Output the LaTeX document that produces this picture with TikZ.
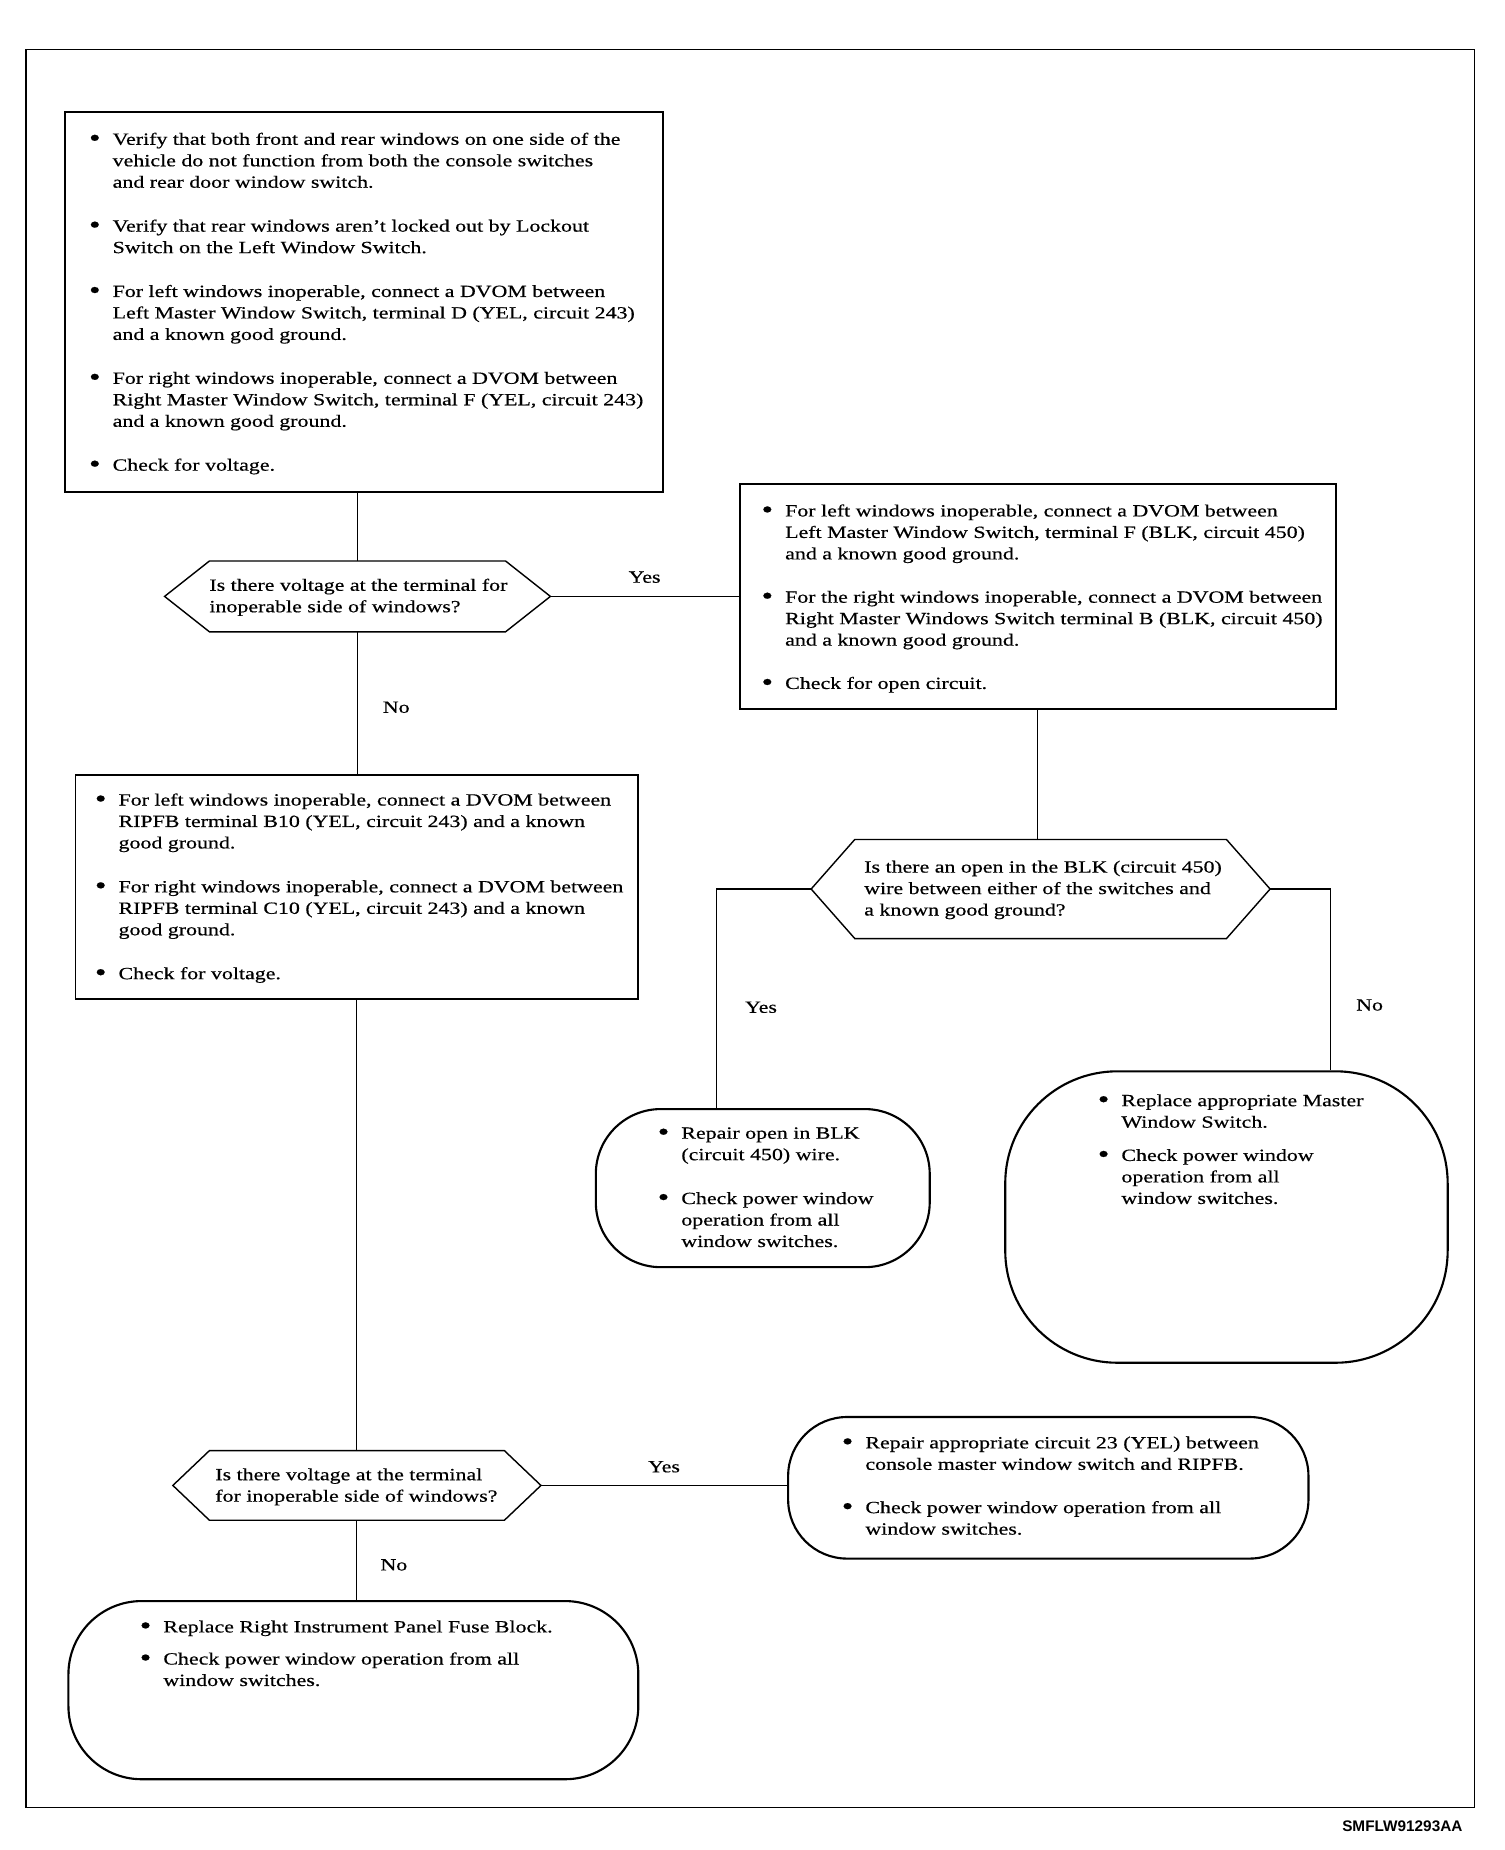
\documentclass[tikz,border=0pt]{standalone}
\usepackage{fontspec}
\setmainfont{Liberation Serif}[FakeStretch=1.28,FakeBold=0.5]
\newfontfamily\codefont{Liberation Sans}
\usetikzlibrary{positioning}
\newcommand{\flow}{\fontsize{14.5}{18.2}\selectfont}
\newcommand{\bl}{\makebox[20pt][l]{\raisebox{-1.3pt}{\scalebox{1.5}{\textbullet}}}}
\newcommand{\ind}{\hspace*{20pt}}

\begin{document}
\begin{tikzpicture}[x=1pt,y=-1pt,line width=1pt]
  \tikzstyle{nodeRect}=[rectangle,draw,line width=1.6pt,inner sep=0pt]
  \tikzstyle{nodeEnd}=[rectangle,draw,line width=1.8pt,inner sep=0pt]
  \tikzstyle{nodeQ}=[rectangle,inner sep=0pt]
  \tikzstyle{nodeTxt}=[anchor=north west,inner sep=0pt,align=left,font=\flow,yshift=-2pt]
  \tikzstyle{nodeLbl}=[inner sep=0pt,font=\flow]

  \useasboundingbox (0,0) rectangle (1275,1568);
  \draw (22,42) rectangle (1250,1532);

  % Check boxes
  \node[nodeRect, minimum width=507, minimum height=322] (verify)     at (308.5,256)  {};
  \node[nodeRect, minimum width=505, minimum height=191] (groundTest) at (879.5,505.5) {};
  \node[nodeRect, minimum width=477, minimum height=190] (fuseTest)   at (302.5,752)  {};

  % Questions
  \node[nodeQ, minimum width=326, minimum height=59] (askVolt) at (303,505.5)  {};
  \node[nodeQ, minimum width=388, minimum height=83] (askOpen) at (882,753.5)  {};
  \node[nodeQ, minimum width=311, minimum height=58] (askFuse) at (302.5,1259) {};
  \foreach \q/\c in {askVolt/38,askOpen/37,askFuse/31}
    \draw[line width=1.2pt] (\q.west) -- ([xshift=\c]\q.north west) -- ([xshift=-\c]\q.north east)
      -- (\q.east) -- ([xshift=-\c]\q.south east) -- ([xshift=\c]\q.south west) -- cycle;

  % End boxes
  \node[nodeEnd, rounded corners=55, minimum width=283, minimum height=134] (fixWire)    at (646.5,1007)   {};
  \node[nodeEnd, rounded corners=95, minimum width=375, minimum height=247] (newSwitch)  at (1039.5,1031.5) {};
  \node[nodeEnd, rounded corners=50, minimum width=441, minimum height=120] (fixCircuit) at (888.5,1261)   {};
  \node[nodeEnd, rounded corners=62, minimum width=483, minimum height=151] (newBlock)   at (299.5,1432.5) {};

  % Texts
  \node[nodeTxt] (verifyTxt) at (75,110) {%
    \bl Verify that both front and rear windows on one side of the\\
    \ind vehicle do not function from both the console switches\\
    \ind and rear door window switch.\\[19pt]
    \bl Verify that rear windows aren't locked out by Lockout\\
    \ind Switch on the Left Window Switch.\\[19pt]
    \bl For left windows inoperable, connect a DVOM between\\
    \ind Left Master Window Switch, terminal D (YEL, circuit 243)\\
    \ind and a known good ground.\\[19pt]
    \bl For right windows inoperable, connect a DVOM between\\
    \ind Right Master Window Switch, terminal F (YEL, circuit 243)\\
    \ind and a known good ground.\\[19pt]
    \bl Check for voltage.};
  \node[nodeTxt] (askVoltTxt) at (177,488) {Is there voltage at the terminal for\\inoperable side of windows?};
  \node[nodeTxt] (groundTxt) at (645,425) {%
    \bl For left windows inoperable, connect a DVOM between\\
    \ind Left Master Window Switch, terminal F (BLK, circuit 450)\\
    \ind and a known good ground.\\[18.5pt]
    \bl For the right windows inoperable, connect a DVOM between\\
    \ind Right Master Windows Switch terminal B (BLK, circuit 450)\\
    \ind and a known good ground.\\[18.5pt]
    \bl Check for open circuit.};
  \node[nodeTxt] (fuseTxt) at (80,670) {%
    \bl For left windows inoperable, connect a DVOM between\\
    \ind RIPFB terminal B10 (YEL, circuit 243) and a known\\
    \ind good ground.\\[19pt]
    \bl For right windows inoperable, connect a DVOM between\\
    \ind RIPFB terminal C10 (YEL, circuit 243) and a known\\
    \ind good ground.\\[19pt]
    \bl Check for voltage.};
  \node[nodeTxt] (askOpenTxt) at (732,727) {Is there an open in the BLK (circuit 450)\\
    wire between either of the switches and\\a known good ground?};
  \node[nodeTxt] (fixWireTxt) at (557,953) {%
    \bl Repair open in BLK\\
    \ind (circuit 450) wire.\\[19pt]
    \bl Check power window\\
    \ind operation from all\\
    \ind window switches.};
  \node[nodeTxt] (newSwitchTxt) at (930,925) {%
    \bl Replace appropriate Master\\
    \ind Window Switch.\\[10pt]
    \bl Check power window\\
    \ind operation from all\\
    \ind window switches.};
  \node[nodeTxt] (askFuseTxt) at (182,1242) {Is there voltage at the terminal\\for inoperable side of windows?};
  \node[nodeTxt] (fixCircuitTxt) at (713,1215) {%
    \bl Repair appropriate circuit 23 (YEL) between\\
    \ind console master window switch and RIPFB.\\[18.5pt]
    \bl Check power window operation from all\\
    \ind window switches.};
  \node[nodeTxt] (newBlockTxt) at (118,1371) {%
    \bl Replace Right Instrument Panel Fuse Block.\\[9pt]
    \bl Check power window operation from all\\
    \ind window switches.};

  % Connectors
  \draw (askVolt.north) -- (askVolt.north |- verify.south);
  \draw (askVolt.east) -- node[nodeLbl, above=11pt] {Yes} (groundTest.west);
  \draw (askVolt.south) -- node[nodeLbl, pos=0.53, right=21pt] {No} (askVolt.south |- fuseTest.north);
  \draw (groundTest.south) -- (groundTest.south |- askOpen.north);
  \draw (askOpen.west) -| node[nodeLbl, pos=0.77, right=24pt] {Yes} ([xshift=-39.5]fixWire.north);
  \draw (askOpen.east) -| node[nodeLbl, pos=0.82, right=21pt] {No} ([xshift=88.5]newSwitch.north);
  \draw (fuseTest.south) -- (askFuse.north);
  \draw (askFuse.east) -- node[nodeLbl, above=10.5pt] {Yes} (askFuse.east -| fixCircuit.west);
  \draw (askFuse.south) -- node[nodeLbl, pos=0.56, right=19.5pt] {No} (askFuse.south |- newBlock.north);

  \node[anchor=east, inner sep=0pt, font=\codefont\bfseries\fontsize{13}{13}\selectfont] (figCode) at (1240,1548) {SMFLW91293AA};
\end{tikzpicture}
\end{document}
